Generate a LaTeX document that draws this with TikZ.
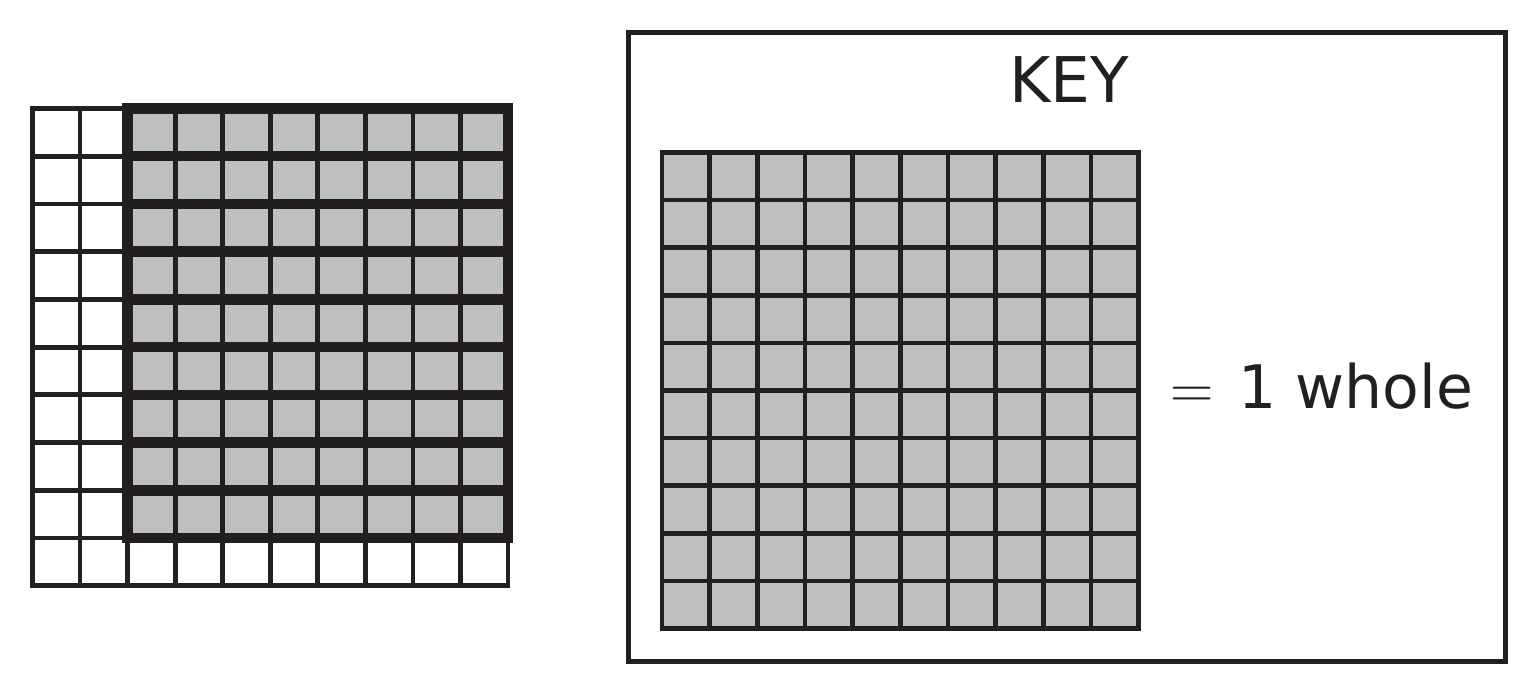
\documentclass[tikz,border=0pt]{standalone}
\usepackage{fix-cm}
\usepackage{fontspec}
\setmainfont{DejaVu Sans}
\newfontfamily\lmfont{Latin Modern Roman}
\definecolor{ink}{RGB}{35,31,32}
\definecolor{cellgray}{RGB}{190,191,193}
\tikzset{
  thinline/.style={draw=ink, line width=4.8pt, line cap=rect},
  thickline/.style={draw=ink, line width=10.5pt, line cap=rect},
  frameline/.style={draw=ink, line width=5pt},
  label/.style={text=ink, inner sep=0pt}
}
\begin{document}
\begin{tikzpicture}[x=1pt,y=-1pt]
\useasboundingbox (0,0) rectangle (1528,688);
% ---------- left grid ----------
\def\lx{32.5}\def\ly{108.5}\def\lcx{47.55}\def\lcy{47.72}
\fill[cellgray] (\lx+2*\lcx,\ly) rectangle (\lx+10*\lcx,\ly+9*\lcy);
\foreach \i in {0,...,10}{
  \draw[thinline] (\lx+\i*\lcx,\ly) -- (\lx+\i*\lcx,\ly+10*\lcy);
  \draw[thinline] (\lx,\ly+\i*\lcy) -- (\lx+10*\lcx,\ly+\i*\lcy);
}
\foreach \j in {1,...,8}{
  \draw[thickline] (\lx+2*\lcx,\ly+\j*\lcy) -- (\lx+10*\lcx,\ly+\j*\lcy);
}
\draw[thickline, line cap=butt, line join=miter] (\lx+2*\lcx,\ly) rectangle (\lx+10*\lcx,\ly+9*\lcy);
% ---------- key frame ----------
\draw[frameline] (628.5,32) rectangle (1505,661);
\node[label, font=\fontsize{63}{63}\selectfont, anchor=base] (key) at (1069,102.5) {KEY};
% ---------- key grid ----------
\def\kx{662}\def\ky{152.5}\def\kcx{47.65}\def\kcy{47.6}
\fill[cellgray] (\kx,\ky) rectangle (\kx+10*\kcx,\ky+10*\kcy);
\foreach \i in {0,...,10}{
  \draw[thinline, line width=4.6pt] (\kx+\i*\kcx,\ky) -- (\kx+\i*\kcx,\ky+10*\kcy);
  \draw[thinline, line width=4.6pt] (\kx,\ky+\i*\kcy) -- (\kx+10*\kcx,\ky+\i*\kcy);
}
\node[label, font=\fontsize{60}{60}\selectfont, anchor=base west] (whole) at (1170,408) {{\lmfont =}\hspace{0.42em}1 whole};
\end{tikzpicture}
\end{document}
